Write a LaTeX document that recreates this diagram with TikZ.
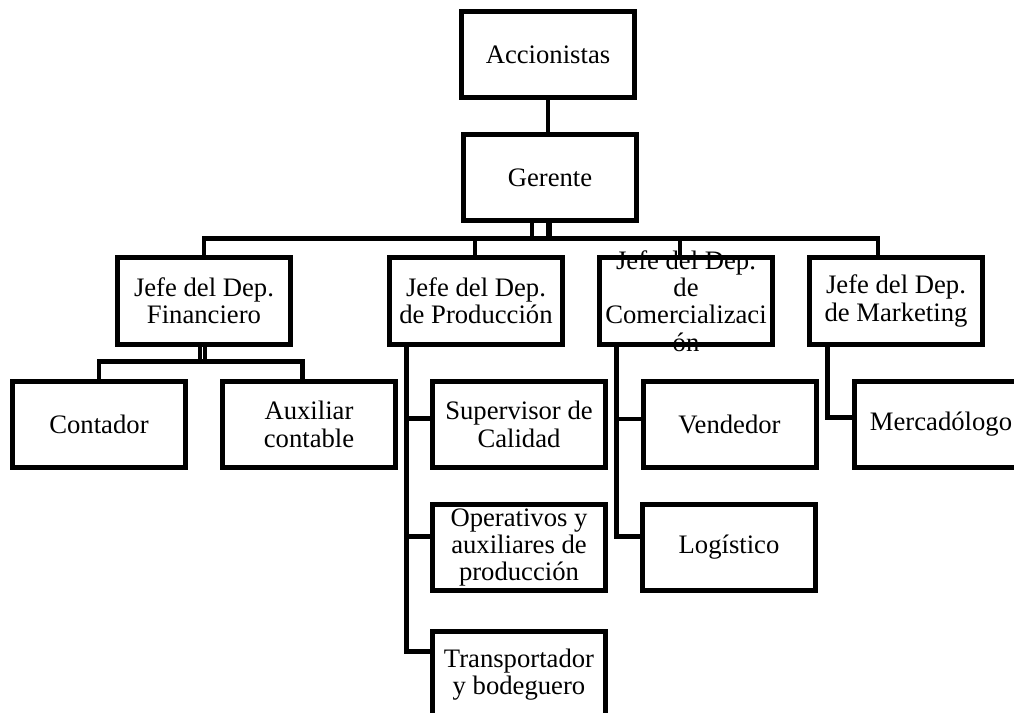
\documentclass[tikz,border=0pt]{standalone}
\usepackage{fontspec}
\setmainfont{Liberation Serif}
\begin{document}
\begin{tikzpicture}[x=0.75pt,y=-0.75pt,
  box/.style={draw=black,line width=3.75pt,minimum width=129.75pt,minimum height=65pt,inner sep=0pt,align=center,fill=white,font=\fontsize{20}{20.5}\selectfont},
  txt/.style={inner sep=0pt,align=center,font=\fontsize{20}{20.5}\selectfont},
  conn/.style={draw=black,line width=3.6pt,line join=miter},
  thinconn/.style={draw=black,line width=3pt}]
\useasboundingbox (0,0) rectangle (1014,713);
% connector points
\coordinate (b1) at (204,238.5);
\coordinate (b2) at (475,238.5);
\coordinate (b3) at (680,238.5);
\coordinate (b4) at (878,238.5);
\coordinate (g1) at (532,238.5);
\coordinate (g2) at (549,238.5);
\coordinate (f1) at (199.5,361.5);
\coordinate (f2) at (204.5,361.5);
\coordinate (h1) at (99,361.5);
\coordinate (h2) at (302.5,361.5);
\coordinate (p0) at (406.7,651.5);
\coordinate (p1) at (406.7,418.7);
\coordinate (p2) at (406.7,536.8);
\coordinate (c0) at (616.7,536.8);
\coordinate (c1) at (616.7,419);
\coordinate (m1) at (827.5,417.5);

\node[box] (acc) at (548,54.5) {Accionistas};
\node[box] (ger) at (550,177.5) {Gerente};
\node[box] (fin) at (204,301) {Jefe del Dep.\\Financiero};
\node[box] (prod) at (476,301) {Jefe del Dep.\\de Producción};
\node[box] (com) at (686,301) {};
\node[box] (mkt) at (896,301) {Jefe del Dep.\\de Marketing};
\node[box] (cont) at (99,424.5) {Contador};
\node[box] (aux) at (309,424.5) {Auxiliar\\contable};
\node[box] (sup) at (519,424.5) {Supervisor de\\Calidad};
\node[box] (ven) at (729.5,424.5) {Vendedor};
\node[box] (mer) at (941,424.5) {Mercadólogo};
\node[box] (ope) at (519,547.5) {Operativos y\\auxiliares de\\producción};
\node[box] (log) at (729,547.5) {Logístico};
\node[box] (tra) at (519,674.5) {Transportador\\y bodeguero};

% top
\draw[conn] (acc.south) -- (acc.south |- ger.north);
\draw[thinconn] (g1 |- ger.south) -- (g1);
\draw[conn,line width=4.5pt] (g2 |- ger.south) -- (g2);
\draw[conn] (fin.north) -- (b1) -- (b4) -- (b4 |- mkt.north);
\draw[conn] (b2) -- (b2 |- prod.north);
\draw[conn] (b3) -- (b3 |- com.north);
% financiero
\draw[thinconn] (f1 |- fin.south) -- (f1);
\draw[thinconn] (f2 |- fin.south) -- (f2);
\draw[conn] (cont.north) -- (h1) -- (h2) -- (h2 |- aux.north);
% produccion
\draw[conn] (p0 |- prod.south) -- (p0) -- (p0 -| tra.west);
\draw[conn] (p1) -- (p1 -| sup.west);
\draw[conn] (p2) -- (p2 -| ope.west);
% comercializacion
\draw[conn] (c0 |- com.south) -- (c0) -- (c0 -| log.west);
\draw[conn] (c1) -- (c1 -| ven.west);
% marketing
\draw[conn] (m1 |- mkt.south) -- (m1) -- (m1 -| mer.west);

\node[txt] (comt) at (com.center) {Jefe del Dep.\\de\\Comercializaci\\ón};
\end{tikzpicture}
\end{document}
